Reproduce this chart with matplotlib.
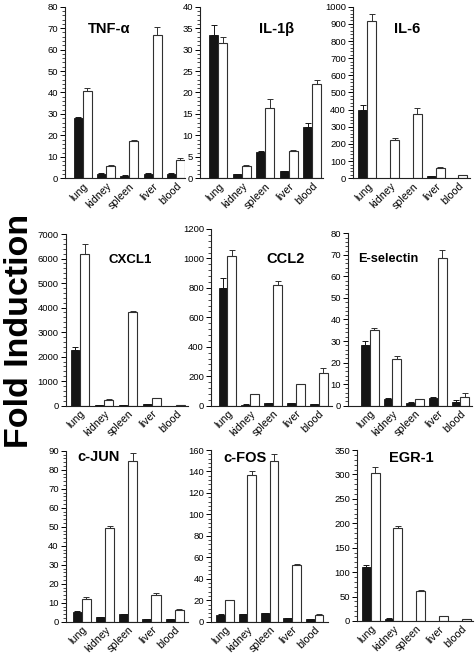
import numpy as np
import matplotlib.pyplot as plt
from matplotlib.ticker import MultipleLocator, AutoMinorLocator

plt.rcParams['font.family'] = ['Liberation Sans', 'DejaVu Sans']

tissues = ['lung', 'kidney', 'spleen', 'liver', 'blood']

# fold induction, filled bars (dark) and open bars, with upper error
tnf_dark = [28.0, 2.0, 1.2, 2.2, 2.2]
tnf_dark_err = [0.6, 0.3, 0.2, 0.3, 0.3]
tnf_open = [40.8, 5.8, 17.2, 67.0, 8.6]
tnf_open_err = [1.2, 0.3, 0.6, 3.5, 0.8]

il1b_dark = [33.3, 1.0, 6.1, 1.7, 12.0]
il1b_dark_err = [2.4, 0.1, 0.2, 0.1, 0.8]
il1b_open = [31.5, 2.9, 16.5, 6.3, 22.0]
il1b_open_err = [1.5, 0.2, 2.0, 0.2, 0.9]

il6_dark = [400, 3, 3, 12, 0]
il6_dark_err = [25, 0, 0, 2, 0]
il6_open = [915, 225, 372, 58, 18]
il6_open_err = [45, 8, 35, 5, 3]

cxcl1_dark = [2280, 30, 30, 60, 5]
cxcl1_dark_err = [120, 5, 5, 10, 0]
cxcl1_open = [6180, 240, 3820, 300, 15]
cxcl1_open_err = [400, 20, 50, 30, 5]

ccl2_dark = [800, 8, 15, 15, 10]
ccl2_dark_err = [65, 2, 3, 3, 2]
ccl2_open = [1015, 80, 820, 145, 220]
ccl2_open_err = [40, 2, 30, 5, 35]

esel_dark = [28.0, 3.3, 1.2, 3.8, 1.5]
esel_dark_err = [2.0, 0.3, 0.3, 0.3, 1.2]
esel_open = [35.0, 21.5, 3.0, 68.5, 4.2]
esel_open_err = [1.2, 1.5, 0.2, 3.8, 1.5]

cjun_dark = [5.0, 2.5, 4.2, 1.2, 1.2]
cjun_dark_err = [0.4, 0.1, 0.1, 0.1, 0.1]
cjun_open = [12.2, 49.5, 84.5, 14.3, 6.3]
cjun_open_err = [1.0, 0.8, 4.5, 0.7, 0.6]

cfos_dark = [6.5, 6.8, 8.0, 3.0, 2.2]
cfos_dark_err = [0.5, 0.5, 0.3, 0.5, 0.5]
cfos_open = [20.0, 137.0, 149.5, 52.5, 5.8]
cfos_open_err = [0.5, 3.0, 6.5, 1.5, 1.5]

egr1_dark = [110, 5, 1, 0, 0]
egr1_dark_err = [4, 0.5, 0, 0, 0]
egr1_open = [303, 190, 61, 10, 4]
egr1_open_err = [12, 5, 2, 0.5, 0.5]

W, H = 475, 657
fig = plt.figure(figsize=(W / 100, H / 100), dpi=100)


def px_rect(left, right, y0, ytop):
    return [left / W, 1 - y0 / H, (right - left) / W, (y0 - ytop) / H]


# (title, dark, dark_err, open, open_err, ymax, ystep,
#  axes px [left, right, zero y, top y], xlim, title x, title baseline y, title size)
panels = [
    ('TNF-α', tnf_dark, tnf_dark_err, tnf_open, tnf_open_err, 80, 10,
     (65, 185, 178.3, 6.7), (-0.76, 4.39), 109, 33.3, 10.5),
    ('IL-1β', il1b_dark, il1b_dark_err, il1b_open, il1b_open_err, 40, 5,
     (200, 323, 178.3, 6.7), (-0.78, 4.46), 277, 33.3, 10.5),
    ('IL-6', il6_dark, il6_dark_err, il6_open, il6_open_err, 1000, 100,
     (353, 470, 178.3, 6.7), (-0.63, 4.51), 407, 33.3, 10.5),
    ('CXCL1', cxcl1_dark, cxcl1_dark_err, cxcl1_open, cxcl1_open_err, 7000, 1000,
     (65.7, 188, 405.7, 234), (-0.60, 4.50), 130, 263.3, 9.5),
    ('CCL2', ccl2_dark, ccl2_dark_err, ccl2_open, ccl2_open_err, 1200, 200,
     (211, 332, 405.7, 229), (-0.72, 4.58), 286, 262.7, 10.5),
    ('E-selectin', esel_dark, esel_dark_err, esel_open, esel_open_err, 80, 10,
     (348, 472, 405.7, 233.3), (-0.96, 4.51), 388, 262.3, 9.2),
    ('c-JUN', cjun_dark, cjun_dark_err, cjun_open, cjun_open_err, 90, 10,
     (65.7, 188, 621.7, 450.7), (-0.69, 4.57), 99, 460.7, 10.5),
    ('c-FOS', cfos_dark, cfos_dark_err, cfos_open, cfos_open_err, 160, 20,
     (211, 328, 621.7, 450), (-0.62, 4.60), 245, 461.7, 10.5),
    ('EGR-1', egr1_dark, egr1_dark_err, egr1_open, egr1_open_err, 350, 50,
     (357, 473, 621, 450), (-0.60, 4.49), 411, 461.7, 10.5),
]

x = np.arange(len(tissues))
w = 0.39

for (title, dark, dark_err, opn, opn_err, ymax, ystep,
     rect, xlim, tx, ty, tsize) in panels:
    ax = fig.add_axes(px_rect(*rect))
    zeros = np.zeros(len(x))
    ax.bar(x - w / 2, dark, w, color='#151515', edgecolor='#151515', linewidth=0.6)
    ax.bar(x + w / 2, opn, w, color='white', edgecolor='#303030', linewidth=0.8)
    ax.errorbar(x - w / 2, dark, yerr=[zeros, dark_err], fmt='none', ecolor='#151515',
                elinewidth=0.7, capsize=2, capthick=0.7)
    ax.errorbar(x + w / 2, opn, yerr=[zeros, opn_err], fmt='none', ecolor='#303030',
                elinewidth=0.7, capsize=2, capthick=0.7)
    ax.set_xlim(*xlim)
    ax.set_ylim(0, ymax)
    ax.yaxis.set_major_locator(MultipleLocator(ystep))
    ax.yaxis.set_minor_locator(AutoMinorLocator(5))
    for s in ['top', 'right']:
        ax.spines[s].set_visible(False)
    for s in ['left', 'bottom']:
        ax.spines[s].set_linewidth(0.8)
        ax.spines[s].set_color('#222222')
    ax.tick_params(axis='y', which='major', length=3.5, width=0.7, labelsize=6.8, pad=1.5)
    ax.tick_params(axis='y', which='minor', length=2, width=0.5)
    ax.tick_params(axis='x', length=0, pad=2)
    ax.set_xticks(x)
    ax.set_xticklabels(tissues, rotation=45, ha='right', rotation_mode='anchor', fontsize=7.7)
    fig.text(tx / W, 1 - ty / H, title, ha='center', va='baseline',
             fontsize=tsize, fontweight='bold')

fig.text(35 / W, 1 - 331 / H, 'Fold Induction', rotation=90, ha='right', va='center',
         fontsize=24.5, fontweight='bold')

plt.savefig('out.png', dpi=100)
